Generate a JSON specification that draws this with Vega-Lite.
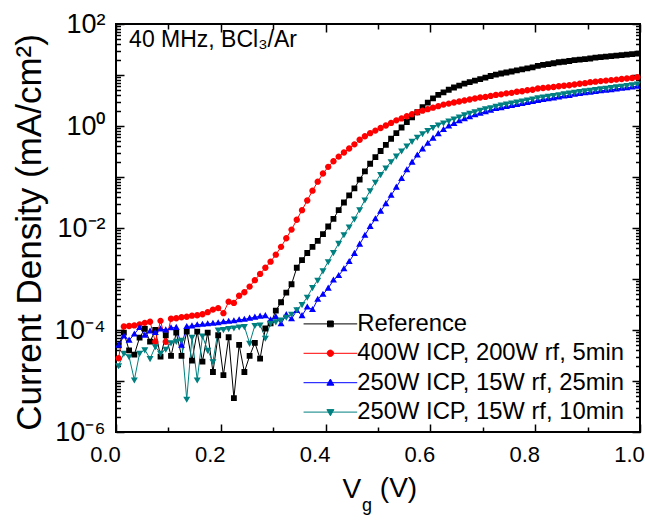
{
  "$schema": "https://vega.github.io/schema/vega-lite/v6.json",
  "width": 524,
  "height": 408,
  "autosize": "none",
  "padding": {"left": 116, "top": 24, "right": 5, "bottom": 88},
  "background": "white",
  "config": {
    "font": "Liberation Sans",
    "view": {"stroke": "black", "strokeWidth": 2},
    "axis": {"zindex": 1, "domain": false, "grid": false, "ticks": true, "tickColor": "black", "tickWidth": 1.5, "tickOpacity": 1, "labelColor": "black", "titleColor": "black", "labelFont": "Liberation Sans", "titleFont": "Liberation Sans", "titleFontWeight": "normal", "labelOverlap": false, "labelFlush": false}
  },
  "datasets": {
    "d": [
      {"v":0.005,"R":5.0e-5,"A":2.8e-5,"B":5.0e-5,"C":2.0e-5},
      {"v":0.015,"R":8.9e-5,"A":1.17e-4,"B":7.6e-5,"C":3.5e-5},
      {"v":0.025,"R":4.0e-5,"A":1.20e-4,"B":6.3e-5,"C":3.0e-5},
      {"v":0.035,"R":3.3e-5,"A":1.23e-4,"B":8.3e-5,"C":1.05e-5},
      {"v":0.045,"R":7.1e-5,"A":1.29e-4,"B":1.12e-4,"C":3.5e-5},
      {"v":0.055,"R":1.05e-4,"A":1.38e-4,"B":7.9e-5,"C":4.1e-5},
      {"v":0.065,"R":5.9e-5,"A":1.45e-4,"B":9.5e-5,"C":2.75e-5},
      {"v":0.075,"R":1.0e-4,"A":5.9e-5,"B":8.9e-5,"C":4.7e-5},
      {"v":0.085,"R":3.0e-5,"A":1.51e-4,"B":1.05e-4,"C":3.5e-5},
      {"v":0.095,"R":7.9e-5,"A":5.9e-5,"B":1.0e-4,"C":4.2e-5},
      {"v":0.105,"R":3.1e-5,"A":1.66e-4,"B":1.10e-4,"C":5.6e-5},
      {"v":0.115,"R":8.9e-5,"A":1.70e-4,"B":1.12e-4,"C":6.0e-5},
      {"v":0.125,"R":3.1e-5,"A":1.78e-4,"B":5.0e-5,"C":6.3e-5},
      {"v":0.135,"R":9.3e-5,"A":1.82e-4,"B":1.17e-4,"C":4.4e-6},
      {"v":0.145,"R":2.5e-5,"A":1.91e-4,"B":1.20e-4,"C":7.2e-5},
      {"v":0.155,"R":9.3e-5,"A":1.95e-4,"B":1.26e-4,"C":1.05e-5},
      {"v":0.165,"R":2.4e-5,"A":2.04e-4,"B":1.29e-4,"C":7.6e-5},
      {"v":0.175,"R":8.9e-5,"A":2.24e-4,"B":1.32e-4,"C":4.0e-5},
      {"v":0.185,"R":1.5e-5,"A":2.51e-4,"B":1.35e-4,"C":2.4e-5},
      {"v":0.195,"R":7.9e-5,"A":2.69e-4,"B":1.38e-4,"C":1.0e-4},
      {"v":0.205,"R":1.3e-5,"A":2.14e-4,"B":1.45e-4,"C":1.02e-4},
      {"v":0.215,"R":7.2e-5,"A":3.6e-4,"B":1.48e-4,"C":1.07e-4},
      {"v":0.225,"R":4.6e-6,"A":3.4e-4,"B":1.51e-4,"C":1.10e-4},
      {"v":0.235,"R":5.1e-5,"A":4.7e-4,"B":1.58e-4,"C":1.15e-4},
      {"v":0.245,"R":1.5e-5,"A":5.5e-4,"B":1.62e-4,"C":1.17e-4},
      {"v":0.255,"R":3.1e-5,"A":7.1e-4,"B":1.70e-4,"C":5.5e-5},
      {"v":0.265,"R":5.6e-5,"A":9.5e-4,"B":1.78e-4,"C":1.23e-4},
      {"v":0.275,"R":2.75e-5,"A":1.26e-3,"B":1.86e-4,"C":1.26e-4},
      {"v":0.285,"R":1.07e-4,"A":1.66e-3,"B":1.91e-4,"C":6.9e-5},
      {"v":0.295,"R":1.35e-4,"A":2.19e-3,"B":1.58e-4,"C":1.35e-4},
      {"v":0.305,"R":2.4e-4,"A":3.0e-3,"B":1.82e-4,"C":1.45e-4},
      {"v":0.315,"R":3.5e-4,"A":4.27e-3,"B":1.32e-4,"C":1.58e-4},
      {"v":0.325,"R":5.4e-4,"A":6.3e-3,"B":2.0e-4,"C":1.78e-4},
      {"v":0.335,"R":7.9e-4,"A":9.3e-3,"B":1.66e-4,"C":2.04e-4},
      {"v":0.345,"R":1.66e-3,"A":1.45e-2,"B":2.4e-4,"C":2.51e-4},
      {"v":0.355,"R":2.34e-3,"A":2.24e-2,"B":1.91e-4,"C":3.16e-4},
      {"v":0.365,"R":3.24e-3,"A":3.47e-2,"B":2.82e-4,"C":4.4e-4},
      {"v":0.375,"R":4.27e-3,"A":5.4e-2,"B":2.51e-4,"C":6.8e-4},
      {"v":0.385,"R":5.6e-3,"A":8.1e-2,"B":4.0e-4,"C":9.5e-4},
      {"v":0.395,"R":7.6e-3,"A":0.117,"B":5.0e-4,"C":1.45e-3},
      {"v":0.405,"R":1.07e-2,"A":0.158,"B":6.6e-4,"C":2.19e-3},
      {"v":0.415,"R":1.51e-2,"A":0.204,"B":9.5e-4,"C":3.31e-3},
      {"v":0.425,"R":2.24e-2,"A":0.251,"B":1.17e-3,"C":5.0e-3},
      {"v":0.435,"R":3.16e-2,"A":0.302,"B":1.58e-3,"C":7.4e-3},
      {"v":0.445,"R":4.37e-2,"A":0.363,"B":2.19e-3,"C":1.05e-2},
      {"v":0.455,"R":6.0e-2,"A":0.437,"B":3.16e-3,"C":1.51e-2},
      {"v":0.465,"R":8.9e-2,"A":0.537,"B":4.8e-3,"C":2.29e-2},
      {"v":0.475,"R":0.129,"A":0.631,"B":7.2e-3,"C":3.55e-2},
      {"v":0.485,"R":0.182,"A":0.724,"B":1.07e-2,"C":5.4e-2},
      {"v":0.495,"R":0.245,"A":0.813,"B":1.51e-2,"C":7.9e-2},
      {"v":0.505,"R":0.324,"A":0.912,"B":2.14e-2,"C":0.112},
      {"v":0.515,"R":0.427,"A":1.02,"B":3.0e-2,"C":0.151},
      {"v":0.525,"R":0.562,"A":1.15,"B":4.37e-2,"C":0.200},
      {"v":0.535,"R":0.724,"A":1.29,"B":6.3e-2,"C":0.257},
      {"v":0.545,"R":0.933,"A":1.41,"B":9.3e-2,"C":0.324},
      {"v":0.555,"R":1.20,"A":1.55,"B":0.138,"C":0.407},
      {"v":0.565,"R":1.48,"A":1.70,"B":0.195,"C":0.501},
      {"v":0.575,"R":1.86,"A":1.86,"B":0.269,"C":0.603},
      {"v":0.585,"R":2.34,"A":2.00,"B":0.355,"C":0.708},
      {"v":0.595,"R":2.88,"A":2.14,"B":0.457,"C":0.813},
      {"v":0.605,"R":3.47,"A":2.29,"B":0.575,"C":0.933},
      {"v":0.615,"R":4.07,"A":2.45,"B":0.708,"C":1.05},
      {"v":0.625,"R":4.57,"A":2.63,"B":0.851,"C":1.15},
      {"v":0.635,"R":5.13,"A":2.75,"B":1.00,"C":1.26},
      {"v":0.645,"R":5.69,"A":2.88,"B":1.12,"C":1.38},
      {"v":0.655,"R":6.17,"A":3.02,"B":1.26,"C":1.51},
      {"v":0.665,"R":6.76,"A":3.16,"B":1.38,"C":1.66},
      {"v":0.675,"R":7.24,"A":3.31,"B":1.51,"C":1.78},
      {"v":0.685,"R":7.76,"A":3.47,"B":1.66,"C":1.91},
      {"v":0.695,"R":8.32,"A":3.63,"B":1.78,"C":2.04},
      {"v":0.705,"R":8.91,"A":3.72,"B":1.91,"C":2.19},
      {"v":0.715,"R":9.55,"A":3.89,"B":2.04,"C":2.29},
      {"v":0.725,"R":10.2,"A":4.07,"B":2.19,"C":2.45},
      {"v":0.735,"R":10.7,"A":4.17,"B":2.29,"C":2.57},
      {"v":0.745,"R":11.2,"A":4.37,"B":2.40,"C":2.69},
      {"v":0.755,"R":11.7,"A":4.47,"B":2.51,"C":2.82},
      {"v":0.765,"R":12.3,"A":4.68,"B":2.63,"C":2.95},
      {"v":0.775,"R":12.9,"A":4.79,"B":2.75,"C":3.09},
      {"v":0.785,"R":13.5,"A":5.01,"B":2.88,"C":3.24},
      {"v":0.795,"R":14.1,"A":5.13,"B":3.02,"C":3.39},
      {"v":0.805,"R":15.1,"A":5.43,"B":3.16,"C":3.59},
      {"v":0.815,"R":15.8,"A":5.56,"B":3.31,"C":3.72},
      {"v":0.825,"R":16.4,"A":5.69,"B":3.43,"C":3.85},
      {"v":0.835,"R":17.0,"A":5.82,"B":3.55,"C":3.98},
      {"v":0.845,"R":17.8,"A":6.03,"B":3.72,"C":4.12},
      {"v":0.855,"R":18.2,"A":6.17,"B":3.85,"C":4.27},
      {"v":0.865,"R":18.8,"A":6.31,"B":3.98,"C":4.42},
      {"v":0.875,"R":19.5,"A":6.53,"B":4.17,"C":4.57},
      {"v":0.885,"R":20.0,"A":6.76,"B":4.32,"C":4.73},
      {"v":0.895,"R":20.4,"A":6.92,"B":4.47,"C":4.90},
      {"v":0.905,"R":21.1,"A":7.24,"B":4.57,"C":5.01},
      {"v":0.915,"R":21.9,"A":7.41,"B":4.73,"C":5.19},
      {"v":0.925,"R":22.4,"A":7.59,"B":4.90,"C":5.37},
      {"v":0.935,"R":22.9,"A":7.76,"B":5.01,"C":5.50},
      {"v":0.945,"R":23.4,"A":7.94,"B":5.13,"C":5.69},
      {"v":0.955,"R":24.0,"A":8.13,"B":5.31,"C":5.89},
      {"v":0.965,"R":24.5,"A":8.32,"B":5.50,"C":6.03},
      {"v":0.975,"R":25.1,"A":8.51,"B":5.62,"C":6.24},
      {"v":0.985,"R":25.7,"A":8.71,"B":5.82,"C":6.46},
      {"v":0.995,"R":26.3,"A":9.02,"B":6.03,"C":6.68}
    ]
  },
  "data": {"name": "d"},
  "layer": [
    {
      "transform": [{"fold": ["R", "A", "B", "C"], "as": ["s", "j"]}],
      "mark": {"type": "line", "strokeWidth": 1},
      "encoding": {
        "x": {
          "field": "v", "type": "quantitative",
          "scale": {"domain": [0, 1], "nice": false, "zero": false},
          "axis": {
            "orient": "bottom",
            "values": [0, 0.1, 0.2, 0.3, 0.4, 0.5, 0.6, 0.7, 0.8, 0.9, 1.0],
            "labelExpr": "round(datum.value*10) % 2 == 0 ? format(datum.value, '.1f') : ''",
            "labelFontSize": 22,
            "labelPadding": 20,
            "labelOffset": -11,
            "tickSize": {"condition": {"test": "round(datum.value*10) % 2 == 0", "value": -8}, "value": -5},
            "title": "V",
            "titleFontSize": 28,
            "titleX": 226,
            "titleY": 65,
            "titleBaseline": "alphabetic",
            "titleAlign": "left"
          }
        },
        "y": {
          "field": "j", "type": "quantitative",
          "scale": {"type": "log", "domain": [0.000001, 100], "nice": false},
          "axis": {
            "orient": "left",
            "values": [1e-6,2e-6,3e-6,4e-6,5e-6,6e-6,7e-6,8e-6,9e-6,1e-5,2e-5,3e-5,4e-5,5e-5,6e-5,7e-5,8e-5,9e-5,1e-4,2e-4,3e-4,4e-4,5e-4,6e-4,7e-4,8e-4,9e-4,0.001,0.002,0.003,0.004,0.005,0.006,0.007,0.008,0.009,0.01,0.02,0.03,0.04,0.05,0.06,0.07,0.08,0.09,0.1,0.2,0.3,0.4,0.5,0.6,0.7,0.8,0.9,1,2,3,4,5,6,7,8,9,10,20,30,40,50,60,70,80,90,100],
            "labelExpr": "datum.value == 100 ? '10²' : datum.value == 1 ? '10⁰' : datum.value == 0.01 ? '10⁻²' : datum.value == 0.0001 ? '10⁻⁴' : datum.value == 0.000001 ? '10⁻⁶' : ''",
            "labelFontSize": 27,
            "labelPadding": 19,
            "tickSize": {"condition": {"test": "abs(log(datum.value)/LN10 - round(log(datum.value)/LN10)) < 0.01", "value": -8}, "value": -4.5},
            "title": "Current Density (mA/cm²)",
            "titleFontSize": 35,
            "titleAngle": -90,
            "titleX": -76,
            "titleY": 208,
            "titleBaseline": "alphabetic",
            "titleAlign": "center"
          }
        },
        "stroke": {
          "field": "s", "type": "nominal",
          "scale": {"domain": ["R", "A", "B", "C"], "range": ["#000000", "#ff0000", "#0000ff", "#008080"]},
          "legend": {
            "orient": "none", "legendX": 202.5, "legendY": 288, "title": null,
            "labelFontSize": 23.8, "labelFont": "Liberation Sans", "labelColor": "black", "labelLimit": 500,
            "symbolSize": 34, "symbolStrokeWidth": 1, "labelOffset": 15, "rowPadding": 4.4, "padding": 0,
            "labelExpr": "datum.label == 'R' ? 'Reference' : datum.label == 'A' ? '400W ICP, 200W rf, 5min' : datum.label == 'B' ? '250W ICP, 15W rf, 25min' : '250W ICP, 15W rf, 10min'"
          }
        }
      }
    },
    {
      "transform": [{"fold": ["R", "A", "B", "C"], "as": ["s", "j"]}],
      "mark": {"type": "point", "filled": true, "size": 34, "opacity": 1},
      "encoding": {
        "x": {
          "field": "v", "type": "quantitative",
          "axis": {
            "orient": "top",
            "values": [0, 0.1, 0.2, 0.3, 0.4, 0.5, 0.6, 0.7, 0.8, 0.9, 1.0],
            "labels": false,
            "tickSize": {"condition": {"test": "round(datum.value*10) % 2 == 0", "value": -8}, "value": -5},
            "title": null
          }
        },
        "y": {
          "field": "j", "type": "quantitative",
          "axis": {
            "orient": "right",
            "values": [1e-6,2e-6,3e-6,4e-6,5e-6,6e-6,7e-6,8e-6,9e-6,1e-5,2e-5,3e-5,4e-5,5e-5,6e-5,7e-5,8e-5,9e-5,1e-4,2e-4,3e-4,4e-4,5e-4,6e-4,7e-4,8e-4,9e-4,0.001,0.002,0.003,0.004,0.005,0.006,0.007,0.008,0.009,0.01,0.02,0.03,0.04,0.05,0.06,0.07,0.08,0.09,0.1,0.2,0.3,0.4,0.5,0.6,0.7,0.8,0.9,1,2,3,4,5,6,7,8,9,10,20,30,40,50,60,70,80,90,100],
            "labels": false,
            "tickSize": {"condition": {"test": "abs(log(datum.value)/LN10 - round(log(datum.value)/LN10)) < 0.01", "value": -8}, "value": -4.5},
            "title": null
          }
        },
        "color": {
          "field": "s", "type": "nominal",
          "scale": {"domain": ["R", "A", "B", "C"], "range": ["#000000", "#ff0000", "#0000ff", "#008080"]},
          "legend": {
            "orient": "none", "legendX": 202.5, "legendY": 288, "title": null,
            "labelFontSize": 23.8, "labelFont": "Liberation Sans", "labelColor": "black", "labelLimit": 500,
            "symbolSize": 34, "symbolStrokeWidth": 1, "labelOffset": 15, "rowPadding": 4.4, "padding": 0,
            "labelExpr": "datum.label == 'R' ? 'Reference' : datum.label == 'A' ? '400W ICP, 200W rf, 5min' : datum.label == 'B' ? '250W ICP, 15W rf, 25min' : '250W ICP, 15W rf, 10min'"
          }
        },
        "shape": {
          "field": "s", "type": "nominal",
          "scale": {"domain": ["R", "A", "B", "C"], "range": [
            "M-9.2,0H9.2M-1,-1H1V1H-1Z",
            "M-9.2,0H9.2M1.1,0A1.1,1.1,0,1,1,-1.1,0A1.1,1.1,0,1,1,1.1,0Z",
            "M-9.2,0H9.2M0,-1.25L1.2,0.85H-1.2Z",
            "M-9.2,0H9.2M0,1.25L1.2,-0.85H-1.2Z"
          ]},
          "legend": {
            "orient": "none", "legendX": 202.5, "legendY": 288, "title": null,
            "labelFontSize": 23.8, "labelFont": "Liberation Sans", "labelColor": "black", "labelLimit": 500,
            "symbolSize": 34, "symbolStrokeWidth": 1, "labelOffset": 15, "rowPadding": 4.4, "padding": 0,
            "labelExpr": "datum.label == 'R' ? 'Reference' : datum.label == 'A' ? '400W ICP, 200W rf, 5min' : datum.label == 'B' ? '250W ICP, 15W rf, 25min' : '250W ICP, 15W rf, 10min'"
          }
        }
      }
    },
    {
      "data": {"values": [{}]},
      "mark": {"type": "text", "fontSize": 23, "align": "left", "baseline": "alphabetic", "color": "black", "font": "Liberation Sans"},
      "encoding": {
        "x": {"datum": 0.025, "type": "quantitative", "axis": null},
        "y": {"datum": 36, "type": "quantitative", "axis": null},
        "text": {"value": "40 MHz, BCl₃/Ar"}
      }
    },
    {
      "data": {"values": [{}]},
      "mark": {"type": "text", "fontSize": 18, "align": "left", "baseline": "alphabetic", "color": "black", "font": "Liberation Sans"},
      "encoding": {
        "x": {"datum": 0.4695, "type": "quantitative", "axis": null},
        "y": {"datum": 2.8e-8, "type": "quantitative", "axis": null},
        "text": {"value": "g"}
      }
    },
    {
      "data": {"values": [{}]},
      "mark": {"type": "text", "fontSize": 28, "align": "left", "baseline": "alphabetic", "color": "black", "font": "Liberation Sans"},
      "encoding": {
        "x": {"datum": 0.5035, "type": "quantitative", "axis": null},
        "y": {"datum": 5.3e-8, "type": "quantitative", "axis": null},
        "text": {"value": "(V)"}
      }
    }
  ],
  "resolve": {"axis": {"x": "independent", "y": "independent"}}
}
